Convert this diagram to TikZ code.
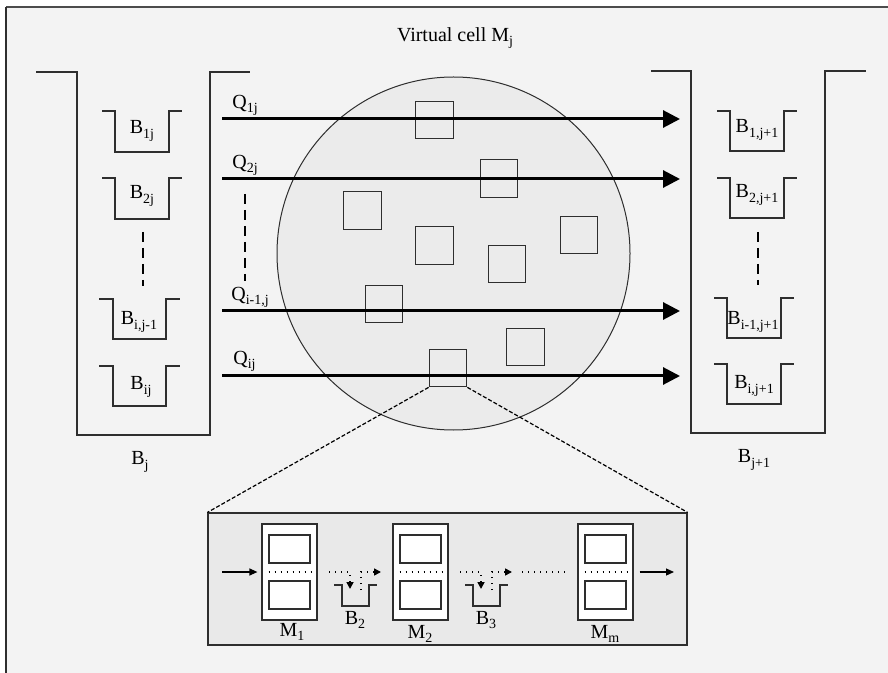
\documentclass[tikz,border=0pt]{standalone}
\usepackage{fontspec}
\setmainfont{Liberation Serif}
\usetikzlibrary{arrows.meta, positioning}

\definecolor{pagegray}{HTML}{F3F3F3}
\definecolor{cellgray}{HTML}{EBEBEB}
\definecolor{zoomgray}{HTML}{E9E9E9}
\definecolor{inkgray}{HTML}{2E2E2E}

% tray-shaped buffer: left x, top y, flange, bottom width, depth
\newcommand{\tray}[5]{%
  \draw[trayline] (#1,#2) -- ++(#3,0) -- ++(0,#5) -- ++(#4,0) -- ++(0,-#5) -- ++(#3,0);}
\newcommand{\ix}[2]{#1\raisebox{-0.45ex}{\fontsize{7}{8}\selectfont #2}}

\tikzset{
  trayline/.style={draw=inkgray, line width=0.65pt},
  flowline/.style={line width=1.5pt, -{Triangle[length=8.5pt,width=8.5pt]}},
  gapdash/.style={line width=1.1pt, dash pattern=on 5pt off 3pt},
  part/.style={draw=inkgray, line width=0.6pt, minimum size=18.75pt, inner sep=0pt},
  machine/.style={draw=inkgray, fill=white, line width=0.6pt, minimum width=27.5pt, minimum height=48pt, inner sep=0pt},
  slot/.style={draw=inkgray, fill=white, line width=0.6pt, minimum width=20.5pt, minimum height=14pt, inner sep=0pt},
  dots/.style={line width=0.8pt, dash pattern=on 0.7pt off 2.3pt},
  lbl/.style={inner sep=0pt, font=\fontsize{10}{12}\selectfont}
}

\begin{document}
\begin{tikzpicture}[x=0.5pt, y=-0.5pt]
\useasboundingbox (0,0) rectangle (888,673);

% page frame
\fill[pagegray] (6,7) rectangle (888,673);
\draw[gray!60!black, line width=0.6pt] (6,7) -- (888,7);
\draw[inkgray, line width=1pt] (6,7) -- (6,673);

% Virtual cell
\node[lbl] (title) at (455,38) {Virtual cell \ix{M}{j}};
\fill[cellgray] (453.5,253.5) circle[radius=88.25pt];
\draw[inkgray, line width=0.5pt] (453.5,253.5) circle[radius=88.25pt];

% Buffer B_j and B_{j+1}
\draw[trayline] (36,72) -- (77,72) -- (77,435) -- (210,435) -- (210,72) -- (250,72);
\draw[trayline] (651,71) -- (691,71) -- (691,433) -- (825,433) -- (825,71) -- (866,71);

% small buffers
\tray{102}{111}{13}{54}{41}
\tray{102}{178}{13}{54}{41}
\tray{99}{299}{14}{53}{40}
\tray{99}{366}{14}{53}{40}
\tray{717}{111}{13}{54}{40}
\tray{717}{178}{13}{54}{40}
\tray{714}{298}{13}{54}{40}
\tray{714}{364}{13}{54}{40}

\node[lbl] (b1j) at (142,131) {\ix{B}{1j}};
\node[lbl] (b2j) at (142,196) {\ix{B}{2j}};
\node[lbl] (bij1) at (139,322) {\ix{B}{i,j-1}};
\node[lbl] (bij) at (141,387) {\ix{B}{ij}};
\node[lbl] (b1n) at (757,130) {\ix{B}{1,j+1}};
\node[lbl] (b2n) at (757,195) {\ix{B}{2,j+1}};
\node[lbl] (bin1) at (753,322) {\ix{B}{i-1,j+1}};
\node[lbl] (bin) at (754,386) {\ix{B}{i,j+1}};
\node[lbl] (bj) at (140,462) {\ix{B}{j}};
\node[lbl] (bjn) at (754,460) {\ix{B}{j+1}};

\draw[gapdash] (143,232) -- (143,286);
\draw[gapdash] (758,232) -- (758,285);
\draw[gapdash] (245,194) -- (245,281);

% machines in the cell
\foreach \name/\x/\y in {p1/434.5/120, p2/499/178.5, p3/362.5/210.5, p4/434.5/245.5,
    p5/507/264, p6/579/235, p7/384/304, p8/525.5/347, detail/448/368}
  \node[part] (\name) at (\x,\y) {};

% flows Q
\foreach \n/\y in {1/119, 2/179, 3/311, 4/376} {
  \coordinate (qs\n) at (222,\y);
  \coordinate (qe\n) at (680,\y);
  \draw[flowline] (qs\n) -- (qe\n);
}
\node[lbl, anchor=west] (q1) at (232,105) {\ix{Q}{1j}};
\node[lbl, anchor=west] (q2) at (232,165) {\ix{Q}{2j}};
\node[lbl, anchor=west] (q3) at (231,297) {\ix{Q}{i-1,j}};
\node[lbl, anchor=west] (q4) at (233,361) {\ix{Q}{ij}};

% detail of one machine
\node[draw=inkgray, fill=zoomgray, line width=0.6pt, minimum width=239.5pt, minimum height=66pt, inner sep=0pt]
  (zoom) at (447.5,579) {};
\draw[line width=0.6pt, dash pattern=on 2pt off 1pt] (detail.south west) -- (zoom.north west);
\draw[line width=0.6pt, dash pattern=on 2pt off 1pt] (detail.south east) -- (zoom.north east);

\foreach \name/\x in {m1/289.5, m2/420.5, mm/605.5} {
  \node[machine] (\name) at (\x,572) {};
  \node[slot] at ([yshift=11.5pt]\name.center) {};
  \node[slot] at ([yshift=-11.5pt]\name.center) {};
  \draw[dots] ([xshift=-10.5pt]\name.center) -- ([xshift=11pt]\name.center);
}
\node[lbl] (m1l) at (292,632) {\ix{M}{1}};
\node[lbl] (m2l) at (420,634) {\ix{M}{2}};
\node[lbl] (mml) at (605,634) {\ix{M}{m}};

% buffers between machines
\foreach \dx/\k in {0/2, 131/3} {
  \tray{334+\dx}{585}{8}{27}{21}
  \draw[dots, -{Triangle[length=3.5pt,width=3.5pt]}] (329+\dx,572) -- (350+\dx,572) -- (350+\dx,589);
  \draw[dots, -{Triangle[length=3.5pt,width=3.5pt]}] (361+\dx,590) -- (361+\dx,572) -- (381+\dx,572);
  \node[lbl] at (355+\dx,620) {\ix{B}{\k}};
}
\draw[dots] (522,572) -- (566,572);

\coordinate (in) at (222,572);
\coordinate (out) at (674,572);
\draw[line width=0.6pt, -{Triangle[length=4pt,width=3.5pt]}, shorten >=2pt] (in) -- (m1.west);
\draw[line width=0.6pt, -{Triangle[length=4pt,width=3.5pt]}, shorten <=3pt] (mm.east) -- (out);
\end{tikzpicture}
\end{document}
